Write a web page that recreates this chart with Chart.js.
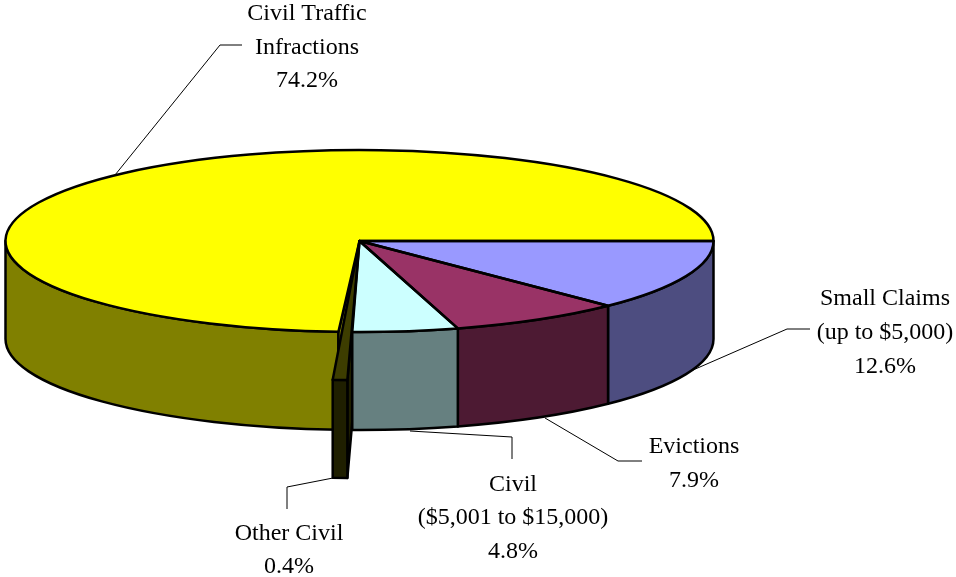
<!DOCTYPE html>
<html lang="en">
<head>
  <meta charset="UTF-8" />
  <title>Civil case filings</title>
  <script src="https://cdn.jsdelivr.net/npm/chart.js"></script>
  <style>
    html, body { margin: 0; padding: 0; background: #fff; }
    canvas { display: block; }
  </style>
</head>
<body>
  <canvas id="pieChart" width="956" height="577"></canvas>

  <script>
    // clockwise from 3 o'clock
    const categories = ["Small Claims", "Evictions", "Civil", "Other Civil", "Civil Traffic Infractions"];
    const shares = [12.6, 7.9, 4.8, 0.4, 74.2];
    const topColors = ["#9999ff", "#993366", "#ccffff", "#3d3d00", "#ffff00"];
    const wallColors = ["#4d4d80", "#4d1a33", "#668080", "#1f1f00", "#808000"];

    const labelLines = [
      ["Small Claims", "(up to $5,000)", "12.6%"],
      ["Evictions", "7.9%"],
      ["Civil", "($5,001 to $15,000)", "4.8%"],
      ["Other Civil", "0.4%"],
      ["Civil Traffic", "Infractions", "74.2%"]
    ];
    const labelCenters = [885, 694, 513, 289, 307];
    const labelBaselines = [
      [305, 339, 373],
      [453, 487],
      [491, 524, 558],
      [540, 573],
      [20, 54, 87]
    ];
    const leaders = [
      [[693, 370], [787, 329], [810, 329]],
      [[545, 418], [618, 461], [642, 461]],
      [[410, 431], [512, 437], [512, 459]],
      [[333, 478], [287, 487], [287, 509]],
      [[115, 175], [220, 45], [242, 45]]
    ];

    const RX = 354;        // top ellipse
    const RY = 91;
    const DEPTH = 98;
    const OTHER = 3;       // index of the pulled out sliver
    const TRAFFIC = 4;
    const PULL = 1.527;    // sliver reach compared to the others

    function wall(ctx, el, scale, color) {
      const a0 = Math.min(el.startAngle, Math.PI);
      const a1 = Math.min(el.endAngle, Math.PI);
      ctx.beginPath();
      ctx.ellipse(el.x, el.y, RX * scale, RY * scale, 0, a0, a1);
      ctx.ellipse(el.x, el.y + DEPTH, RX * scale, RY * scale, 0, a1, a0, true);
      ctx.closePath();
      ctx.fillStyle = color;
      ctx.fill();
      ctx.stroke();
    }

    function radialFace(ctx, el, angle, scale, color) {
      const px = el.x + RX * scale * Math.cos(angle);
      const py = el.y + RY * scale * Math.sin(angle);
      ctx.beginPath();
      ctx.moveTo(el.x, el.y);
      ctx.lineTo(px, py);
      ctx.lineTo(px, py + DEPTH);
      ctx.lineTo(el.x, el.y + DEPTH);
      ctx.closePath();
      ctx.fillStyle = color;
      ctx.fill();
      ctx.stroke();
    }

    const pie3d = {
      id: "pie3d",
      afterDatasetsUpdate(chart) {
        const arcs = chart.getDatasetMeta(0).data;
        arcs[OTHER].outerRadius = arcs[0].outerRadius * PULL;
        arcs[OTHER].startAngle += 0.002;
        arcs[OTHER].endAngle += 0.004;
        arcs[TRAFFIC].startAngle += 0.014;
      },
      beforeDatasetsDraw(chart) {
        const ctx = chart.ctx;
        const arcs = chart.getDatasetMeta(0).data;
        ctx.save();
        ctx.strokeStyle = "#000";
        ctx.lineWidth = 2.5;
        ctx.lineJoin = "round";
        wall(ctx, arcs[TRAFFIC], 1, wallColors[TRAFFIC]);
        radialFace(ctx, arcs[TRAFFIC], arcs[TRAFFIC].startAngle, 1, wallColors[TRAFFIC]);
        radialFace(ctx, arcs[OTHER], arcs[OTHER].startAngle, PULL, wallColors[OTHER]);
        [0, 1, 2].forEach(i => wall(ctx, arcs[i], 1, wallColors[i]));
        wall(ctx, arcs[OTHER], PULL, wallColors[OTHER]);
        ctx.restore();

        // squash the flat pie into the tilted top face
        const first = arcs[0];
        ctx.save();
        ctx.translate(first.x, first.y);
        ctx.scale(RX / first.outerRadius, RY / first.outerRadius);
        ctx.translate(-first.x, -first.y);
      },
      afterDatasetsDraw(chart) {
        const ctx = chart.ctx;
        const arcs = chart.getDatasetMeta(0).data;
        ctx.restore();

        // outlines here so the squash does not thin them
        ctx.save();
        ctx.strokeStyle = "#000";
        ctx.lineWidth = 2.5;
        ctx.lineJoin = "round";
        arcs.forEach((el, i) => {
          const scale = i === OTHER ? PULL : 1;
          ctx.beginPath();
          ctx.moveTo(el.x, el.y);
          ctx.ellipse(el.x, el.y, RX * scale, RY * scale, 0, el.startAngle, el.endAngle);
          ctx.closePath();
          ctx.stroke();
        });
        ctx.restore();

        ctx.save();
        ctx.strokeStyle = "#000";
        ctx.lineWidth = 1;
        leaders.forEach(points => {
          ctx.beginPath();
          points.forEach((p, i) => i ? ctx.lineTo(p[0], p[1]) : ctx.moveTo(p[0], p[1]));
          ctx.stroke();
        });
        ctx.fillStyle = "#000";
        ctx.font = '24px "Liberation Serif"';
        ctx.textAlign = "center";
        ctx.textBaseline = "alphabetic";
        labelLines.forEach((lines, i) => {
          lines.forEach((line, j) => ctx.fillText(line, labelCenters[i], labelBaselines[i][j]));
        });
        ctx.restore();
      }
    };

    new Chart(document.getElementById("pieChart"), {
      type: "pie",
      data: {
        labels: categories,
        datasets: [{
          data: shares,
          backgroundColor: topColors,
          borderWidth: 0,
          clip: false
        }]
      },
      options: {
        responsive: false,
        animation: false,
        rotation: 90,
        layout: { padding: { left: 0, top: 0, right: 237, bottom: 95 } },
        plugins: {
          legend: { display: false },
          tooltip: { enabled: false }
        }
      },
      plugins: [pie3d]
    });
  </script>
</body>
</html>
